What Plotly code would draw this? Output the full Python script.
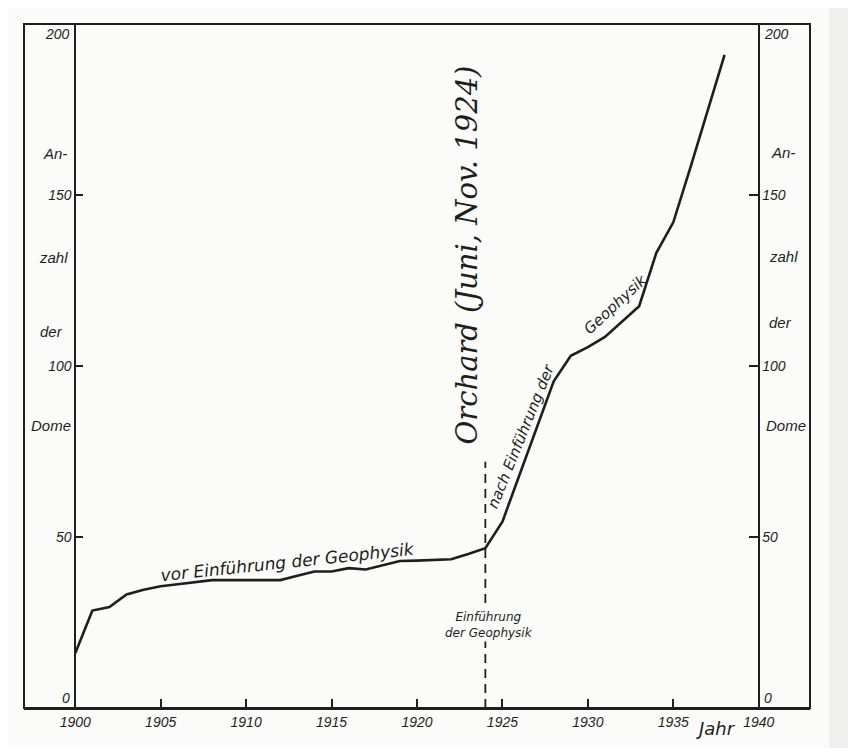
import plotly.graph_objects as go

# Anzahl der Salzdome je Jahr
jahre = list(range(1900, 1939))
dome = [16, 28.5, 29.5, 33.2, 34.6, 35.6, 36.2, 36.8, 37.4, 37.4,
        37.4, 37.4, 37.4, 38.7, 39.9, 39.9, 40.9, 40.5, 41.8, 43.0,
        43.1, 43.3, 43.5, 45.0, 46.7, 54.5, 68.3, 82.0, 95.5, 103.0,
        105.5, 108.5, 113.0, 117.5, 133.0, 142.0, 158.0, 174.5, 191.0]

x_ticks = list(range(1900, 1945, 5))
y_ticks = [50, 100, 150]
jahr_geophysik = 1924

FONT = "DejaVu Sans"
TICKFONT = dict(family="Liberation Sans", size=14)
INK = "#1e1e1e"
BG = "#fbfbf9"

fig = go.Figure()
fig.add_trace(go.Scatter(x=jahre, y=dome, mode="lines",
                         line=dict(color=INK, width=2.6), showlegend=False,
                         hoverinfo="skip"))
fig.add_trace(go.Scatter(x=[], y=[], yaxis="y2", showlegend=False))

# page has an 8px body margin, so the figure is a bit smaller than the window
fig.update_layout(
    width=840, height=740,
    paper_bgcolor=BG, plot_bgcolor=BG,
    margin=dict(l=16, r=38, t=16, b=40),
    font=dict(family=FONT, color=INK),
    xaxis=dict(range=[1897, 1943], tickvals=x_ticks,
               ticktext=[f"<i>{t}</i>" for t in x_ticks],
               ticks="inside", ticklen=9, tickcolor=INK, tickwidth=1.5,
               showline=True, linecolor=INK, linewidth=2,
               showgrid=False, zeroline=False, tickfont=TICKFONT),
    yaxis=dict(range=[0, 200], tickvals=y_ticks,
               ticktext=[f"<i>{t}</i>" for t in y_ticks],
               anchor="free", position=(75.3 - 24) / 786, side="left",
               ticks="inside", ticklen=7, tickcolor=INK, tickwidth=1.5,
               showline=True, linecolor=INK, linewidth=1.8,
               showgrid=False, zeroline=False, tickfont=TICKFONT),
    yaxis2=dict(range=[0, 200], tickvals=y_ticks,
                ticktext=[f"<i>{t}</i>" for t in y_ticks],
                overlaying="y", anchor="free", position=(758.5 - 24) / 786,
                side="right", ticks="inside", ticklen=9, tickcolor=INK,
                tickwidth=1.5, showline=True, linecolor=INK, linewidth=1.8,
                showgrid=False, zeroline=False, tickfont=TICKFONT),
)

# outer frame
fig.add_shape(type="rect", xref="paper", yref="paper", x0=0, x1=1, y0=0, y1=1,
              line=dict(color=INK, width=2))
# scan edges
fig.add_shape(type="rect", xref="paper", yref="paper", x0=1.025, x1=1.08,
              y0=-0.1, y1=1.05, fillcolor="#efefee", line=dict(width=0),
              layer="below")
fig.add_shape(type="line", xref="paper", yref="paper", x0=-0.04, x1=1.025,
              y0=-0.064, y1=-0.064, line=dict(color="#b8b8b8", width=1.5))

# dashed marker line at the introduction of geophysics
fig.add_shape(type="line", x0=jahr_geophysik, x1=jahr_geophysik, y0=0, y1=72,
              line=dict(color=INK, width=1.8, dash="9px,6px"))

ann = []
# end labels 0 and 200 on both inner axes
for lab, yv, ya in [("0", 0, "bottom"), ("200", 200, "top")]:
    ann.append(dict(x=1900, y=yv, xref="x", yref="y", text=f"<i>{lab}</i>",
                    showarrow=False, xanchor="right", yanchor=ya, xshift=-3,
                    font=TICKFONT))
    ann.append(dict(x=1940, y=yv, xref="x", yref="y", text=f"<i>{lab}</i>",
                    showarrow=False, xanchor="left", yanchor=ya, xshift=3,
                    font=TICKFONT))

# axis title, split along both sides
links = [("An-", 1898.8, 162), ("zahl", 1898.75, 131.6),
         ("der", 1898.6, 110), ("Dome", 1898.6, 82.7)]
rechts = [("An-", 1941.4, 162.3), ("zahl", 1941.45, 131.9),
          ("der", 1941.3, 112.6), ("Dome", 1941.6, 82.7)]
for word, xv, yv in links + rechts:
    ann.append(dict(x=xv, y=yv, text=f"<i>{word}</i>", showarrow=False,
                    font=dict(size=15, family="Liberation Sans")))

ann += [
    dict(x=1937.5, y=0, text="<i>Jahr</i>", showarrow=False, yanchor="top",
         yshift=-8, font=dict(size=18)),
    dict(x=1912.4, y=42.7, text="<i>vor Einführung der Geophysik</i>",
         showarrow=False, textangle=-6, font=dict(size=17)),
    dict(x=jahr_geophysik + 0.2, y=24.3, text="<i>Einführung<br>der Geophysik</i>",
         showarrow=False, bgcolor=BG, font=dict(size=12)),
    dict(x=1926.1, y=79.5, text="<i>nach Einführung der</i>",
         showarrow=False, textangle=-68, font=dict(size=15)),
    dict(x=1931.65, y=118, text="<i>Geophysik</i>",
         showarrow=False, textangle=-43, font=dict(size=15)),
    dict(x=1922.9, y=132.5, text="<i>Orchard (Juni, Nov. 1924)</i>",
         showarrow=False, textangle=-90,
         font=dict(size=29, family="DejaVu Serif")),
]
fig.update_layout(annotations=ann)

fig.write_html("out.html")
